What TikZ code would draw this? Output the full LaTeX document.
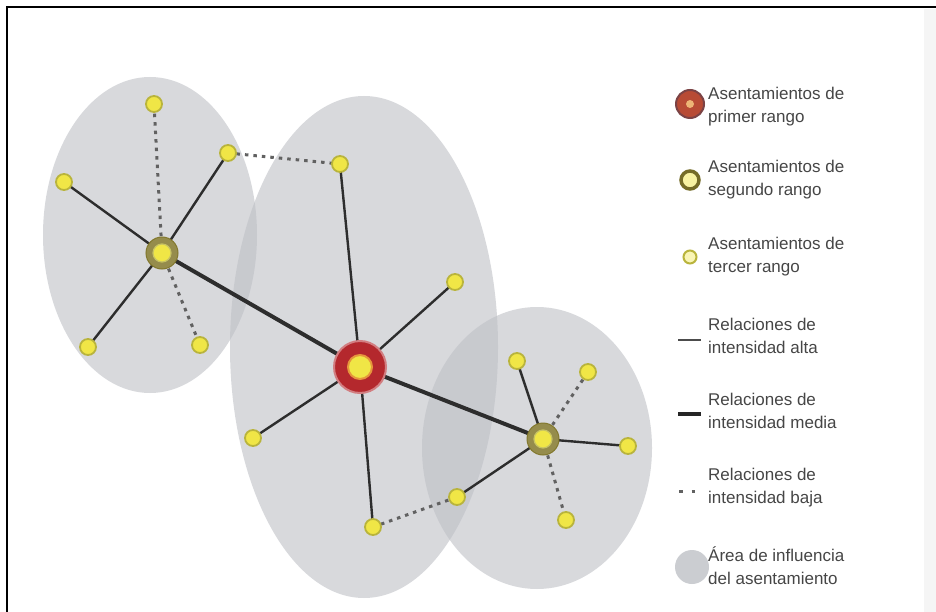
\documentclass[tikz,border=0pt]{standalone}
\usepackage{fontspec}
\setmainfont{Liberation Sans}
\pgfdeclarelayer{areas}
\pgfdeclarelayer{edges}
\pgfsetlayers{areas,edges,main}
\definecolor{areagray}{RGB}{190,192,198}
\definecolor{yel}{RGB}{240,230,70}
\definecolor{yelrim}{RGB}{185,180,60}
\definecolor{olive}{RGB}{130,120,45}
\definecolor{firstred}{RGB}{180,40,45}
\definecolor{firstmid}{RGB}{230,150,60}
\definecolor{legtext}{RGB}{70,70,70}
\definecolor{linedark}{RGB}{45,45,45}
\tikzset{
  third/.style={circle, fill=yel, draw=yelrim, line width=1.8pt, minimum size=16pt, inner sep=0pt},
  secondouter/.style={circle, fill=olive!85, draw=olive, line width=1pt, minimum size=32pt, inner sep=0pt},
  secondinner/.style={circle, fill=yel, draw=yelrim!80!white, line width=1.2pt, minimum size=18pt, inner sep=0pt},
  firstouter/.style={circle, fill=firstred, draw=firstred!60!white, line width=2pt, minimum size=52pt, inner sep=0pt},
  firstring/.style={circle, fill=yel, draw=firstmid, line width=2pt, minimum size=24pt, inner sep=0pt},
  firstcore/.style={circle, fill=yel, draw=none, minimum size=14pt, inner sep=0pt},
  medium/.style={draw=linedark, line width=4pt},
  high/.style={draw=linedark, line width=2.4pt},
  low/.style={draw=linedark!75, line width=3pt, dash pattern=on 3.5pt off 5pt},
  legtxt/.style={anchor=west, align=left, text=legtext, font=\fontsize{17}{23}\selectfont, inner sep=0pt},
}
\begin{document}
\begin{tikzpicture}[x=1pt,y=-1pt]
\useasboundingbox (0,0) rectangle (936,612);

% background and influence areas
\begin{pgfonlayer}{areas}
\fill[white] (0,0) rectangle (936,612);
\fill[black!4] (924,9) rectangle (936,612);
\fill[areagray, fill opacity=0.6] (150,235) ellipse [x radius=107, y radius=158];
\fill[areagray, fill opacity=0.6] (364,347) ellipse [x radius=134, y radius=251];
\fill[areagray, fill opacity=0.6] (537,448) ellipse [x radius=115, y radius=141];
\end{pgfonlayer}
\draw[black, line width=2pt] (7,612) -- (7,7) -- (936,7);

% primary settlement
\node[firstouter] (P) at (360,367) {};
\node[firstring] (Pr) at (P) {};
\node[firstcore] (Pc) at (P) {};

% secondary settlements
\node[secondouter] (L) at (162,253) {};
\node[secondinner] (Li) at (L) {};
\node[secondouter] (R) at (543,439) {};
\node[secondinner] (Ri) at (R) {};

% tertiary settlements - left cluster
\node[third] (l1) at (154,104) {};
\node[third] (l2) at (228,153) {};
\node[third] (l3) at (64,182) {};
\node[third] (l4) at (88,347) {};
\node[third] (l5) at (200,345) {};
% middle cluster
\node[third] (m1) at (340,164) {};
\node[third] (m2) at (455,282) {};
\node[third] (m3) at (253,438) {};
\node[third] (m4) at (373,527) {};
% right cluster
\node[third] (r1) at (517,361) {};
\node[third] (r2) at (588,372) {};
\node[third] (r3) at (628,446) {};
\node[third] (r4) at (457,497) {};
\node[third] (r5) at (566,520) {};

\begin{pgfonlayer}{edges}
\draw[medium] (L.center) -- (P.center);
\draw[medium] (P.center) -- (R.center);
\draw[high] (L.center) -- (l2.center);
\draw[high] (L.center) -- (l3.center);
\draw[high] (L.center) -- (l4.center);
\draw[low] (L.center) -- (l1.center);
\draw[low] (L.center) -- (l5.center);
\draw[low] (l2.center) -- (m1.center);
\draw[high] (P.center) -- (m1.center);
\draw[high] (P.center) -- (m2.center);
\draw[high] (P.center) -- (m3.center);
\draw[high] (P.center) -- (m4.center);
\draw[low] (m4.center) -- (r4.center);
\draw[high] (R.center) -- (r1.center);
\draw[high] (R.center) -- (r3.center);
\draw[high] (R.center) -- (r4.center);
\draw[low] (R.center) -- (r2.center);
\draw[low] (R.center) -- (r5.center);
\end{pgfonlayer}

% legend symbols
\node[circle, fill=firstred!60!brown, draw=firstred!50!black!80, line width=2pt, minimum size=28pt, inner sep=0pt] (k1) at (690,104) {};
\node[circle, fill=firstmid!70!white, minimum size=8pt, inner sep=0pt] (k1c) at (k1) {};
\node[circle, fill=yel!50!white, draw=olive!90!black, line width=3.5pt, minimum size=18pt, inner sep=0pt] (k2) at (690,180) {};
\node[circle, fill=yel!40!white, draw=yelrim, line width=2pt, minimum size=13pt, inner sep=0pt] (k3) at (690,257) {};
\coordinate (k4a) at (678,340);
\coordinate (k4b) at (701,340);
\draw[high, draw=linedark!85] (k4a) -- (k4b);
\coordinate (k5a) at (678,414);
\coordinate (k5b) at (701,414);
\draw[medium, draw=black!85] (k5a) -- (k5b);
\coordinate (k6a) at (679,491);
\coordinate (k6b) at (697,491);
\draw[low, dash pattern=on 3.5pt off 9pt] (k6a) -- (k6b);
\node[circle, fill=areagray!80, minimum size=34pt, inner sep=0pt] (k7) at (692,567) {};

% legend texts
\node[legtxt] (t1) at (708,107) {Asentamientos de\\primer rango};
\node[legtxt] (t2) at (708,180) {Asentamientos de\\segundo rango};
\node[legtxt] (t3) at (708,257) {Asentamientos de\\tercer rango};
\node[legtxt] (t4) at (708,336) {Relaciones de\\intensidad alta};
\node[legtxt] (t5) at (708,411) {Relaciones de\\intensidad media};
\node[legtxt] (t6) at (708,488) {Relaciones de\\intensidad baja};
\node[legtxt] (t7) at (708,566) {Área de influencia\\del asentamiento};
\end{tikzpicture}
\end{document}
